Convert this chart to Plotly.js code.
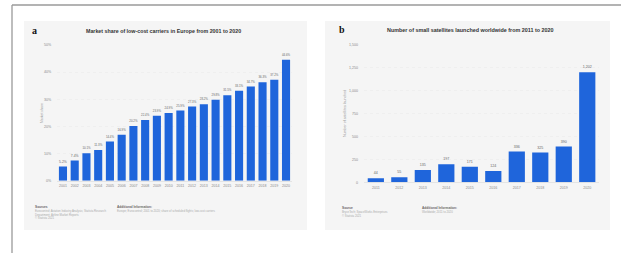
<!DOCTYPE html>
<html>
<head>
<meta charset="utf-8">
<script src="https://cdn.plot.ly/plotly-3.0.1.min.js"></script>
<style>html,body{margin:0;padding:0;background:#fff;}#chart{width:621px;height:253px;}</style>
</head>
<body>
<div id="chart"></div>
<script>
// Panel a data
const yearsA = ["2001","2002","2003","2004","2005","2006","2007","2008","2009","2010","2011","2012","2013","2014","2015","2016","2017","2018","2019","2020"];
const shareA = [5.2, 7.4, 10.1, 11.3, 14.4, 16.9, 20.2, 22.4, 23.9, 24.9, 25.9, 27.3, 28.2, 29.8, 31.5, 33.1, 34.7, 36.3, 37.2, 44.6];
const ticksA = [0, 10, 20, 30, 40, 50];
// Panel b data
const yearsB = ["2011","2012","2013","2014","2015","2016","2017","2018","2019","2020"];
const satsB = [44, 55, 135, 197, 171, 124, 336, 325, 390, 1202];
const ticksB = [0, 250, 500, 750, 1000, 1250, 1500];

const blue = '#1f65db';
const tickFont = {family: 'Arial, Liberation Sans, sans-serif', size: 3.6, color: '#8a8a8a'};
const W = 621, H = 253;
const px = x => x / W;
const py = y => 1 - y / H;

const traces = [
  {type: 'bar', x: yearsA, y: shareA, xaxis: 'x', yaxis: 'y', marker: {color: blue},
   text: shareA.map(v => v.toFixed(1) + '%'), textposition: 'outside', cliponaxis: false,
   textfont: {family: 'Arial, Liberation Sans, sans-serif', size: 3.4, color: '#666'}, hoverinfo: 'none'},
  {type: 'bar', x: yearsB, y: satsB, xaxis: 'x2', yaxis: 'y2', marker: {color: blue},
   text: satsB.map(v => v.toLocaleString('en-US')), textposition: 'outside', cliponaxis: false,
   textfont: {family: 'Arial, Liberation Sans, sans-serif', size: 3.6, color: '#666'}, hoverinfo: 'none'}
];

const axisCommon = {
  showgrid: false, zeroline: false, ticks: '', tickfont: tickFont, fixedrange: true
};

const layout = {
  width: W, height: H, margin: {l: 0, r: 0, t: 0, b: 0},
  paper_bgcolor: '#ffffff', plot_bgcolor: 'rgba(0,0,0,0)',
  showlegend: false, bargap: 0.31,
  xaxis: Object.assign({}, axisCommon, {domain: [px(57.1), px(291.9)], anchor: 'y', type: 'category',
    showline: true, linecolor: '#d8d8d8', linewidth: 0.6, ticklabelstandoff: 1}),
  yaxis: Object.assign({}, axisCommon, {domain: [py(180.7), py(45)], anchor: 'x', range: [0, 50],
    tickvals: ticksA, ticktext: ticksA.map(v => v + '%'), showgrid: true, gridcolor: '#e9e9e9',
    gridwidth: 0.5, griddash: 'dot', ticklabelstandoff: 5}),
  xaxis2: Object.assign({}, axisCommon, {domain: [px(364.1), px(599.0)], anchor: 'y2', type: 'category',
    showline: true, linecolor: '#d8d8d8', linewidth: 0.6, ticklabelstandoff: 2}),
  yaxis2: Object.assign({}, axisCommon, {domain: [py(182.3), py(45)], anchor: 'x2', range: [0, 1500],
    tickvals: ticksB, ticktext: ticksB.map(v => v.toLocaleString('en-US')), showgrid: true,
    gridcolor: '#e9e9e9', gridwidth: 0.5, griddash: 'dot', ticklabelstandoff: 5}),
  shapes: [
    // outer frame (top and left lines)
    {type: 'line', xref: 'paper', yref: 'paper', x0: px(12), x1: 1.01, y0: py(5), y1: py(5), line: {color: '#9a9a9a', width: 1.3}},
    {type: 'line', xref: 'paper', yref: 'paper', x0: px(12), x1: px(12), y0: py(5), y1: -0.01, line: {color: '#9a9a9a', width: 1.3}},
    // panel backgrounds
    {type: 'rect', xref: 'paper', yref: 'paper', x0: px(24), x1: px(307), y0: py(21), y1: py(230), fillcolor: '#f5f5f5', line: {width: 0}, layer: 'below'},
    {type: 'rect', xref: 'paper', yref: 'paper', x0: px(325), x1: px(610), y0: py(21), y1: py(230), fillcolor: '#f5f5f5', line: {width: 0}, layer: 'below'}
  ],
  annotations: [
    {xref: 'paper', yref: 'paper', x: px(30), y: py(31), text: '<b>a</b>', showarrow: false, xanchor: 'left', yanchor: 'middle',
     font: {family: 'Liberation Serif, serif', size: 10, color: '#111'}},
    {xref: 'paper', yref: 'paper', x: px(163.5), y: py(31), text: '<b>Market share of low-cost carriers in Europe from 2001 to 2020</b>', showarrow: false,
     xanchor: 'center', yanchor: 'middle', font: {family: 'Arial, Liberation Sans, sans-serif', size: 5.3, color: '#333'}},
    {xref: 'paper', yref: 'paper', x: px(337), y: py(30), text: '<b>b</b>', showarrow: false, xanchor: 'left', yanchor: 'middle',
     font: {family: 'Liberation Serif, serif', size: 10, color: '#111'}},
    {xref: 'paper', yref: 'paper', x: px(470), y: py(30), text: '<b>Number of small satellites launched worldwide from 2011 to 2020</b>', showarrow: false,
     xanchor: 'center', yanchor: 'middle', font: {family: 'Arial, Liberation Sans, sans-serif', size: 5.4, color: '#333'}},
    // y-axis titles
    {xref: 'paper', yref: 'paper', x: px(38), y: py(113), text: 'Market share', textangle: -90, showarrow: false,
     font: {family: 'Arial, Liberation Sans, sans-serif', size: 3.4, color: '#999'}},
    {xref: 'paper', yref: 'paper', x: px(345), y: py(114), text: 'Number of satellites launched', textangle: -90, showarrow: false,
     font: {family: 'Arial, Liberation Sans, sans-serif', size: 3.6, color: '#999'}},
    // footers panel a
    {xref: 'paper', yref: 'paper', x: px(33), y: py(207), text: '<b>Sources</b>', showarrow: false, xanchor: 'left', yanchor: 'middle',
     font: {family: 'Arial, Liberation Sans, sans-serif', size: 3.2, color: '#666'}},
    {xref: 'paper', yref: 'paper', x: px(33), y: py(214), text: 'Eurocontrol; Aviation Industry Analysis; Statista Research<br>Department; Airline Market Reports<br>© Statista 2021', showarrow: false,
     xanchor: 'left', yanchor: 'middle', align: 'left', font: {family: 'Arial, Liberation Sans, sans-serif', size: 2.8, color: '#aaa'}},
    {xref: 'paper', yref: 'paper', x: px(115), y: py(207), text: '<b>Additional Information:</b>', showarrow: false, xanchor: 'left', yanchor: 'middle',
     font: {family: 'Arial, Liberation Sans, sans-serif', size: 3.2, color: '#666'}},
    {xref: 'paper', yref: 'paper', x: px(115), y: py(211), text: 'Europe; Eurocontrol; 2001 to 2020; share of scheduled flights; low-cost carriers', showarrow: false,
     xanchor: 'left', yanchor: 'middle', font: {family: 'Arial, Liberation Sans, sans-serif', size: 2.8, color: '#aaa'}},
    // footers panel b
    {xref: 'paper', yref: 'paper', x: px(340), y: py(208), text: '<b>Source</b>', showarrow: false, xanchor: 'left', yanchor: 'middle',
     font: {family: 'Arial, Liberation Sans, sans-serif', size: 3.2, color: '#666'}},
    {xref: 'paper', yref: 'paper', x: px(340), y: py(214), text: 'BryceTech; SpaceWorks Enterprises<br>© Statista 2021', showarrow: false,
     xanchor: 'left', yanchor: 'middle', align: 'left', font: {family: 'Arial, Liberation Sans, sans-serif', size: 2.8, color: '#aaa'}},
    {xref: 'paper', yref: 'paper', x: px(420), y: py(208), text: '<b>Additional Information:</b>', showarrow: false, xanchor: 'left', yanchor: 'middle',
     font: {family: 'Arial, Liberation Sans, sans-serif', size: 3.2, color: '#666'}},
    {xref: 'paper', yref: 'paper', x: px(420), y: py(212), text: 'Worldwide; 2011 to 2020', showarrow: false,
     xanchor: 'left', yanchor: 'middle', font: {family: 'Arial, Liberation Sans, sans-serif', size: 2.8, color: '#aaa'}}
  ]
};

Plotly.newPlot('chart', traces, layout, {displayModeBar: false, staticPlot: true});
</script>
</body>
</html>
